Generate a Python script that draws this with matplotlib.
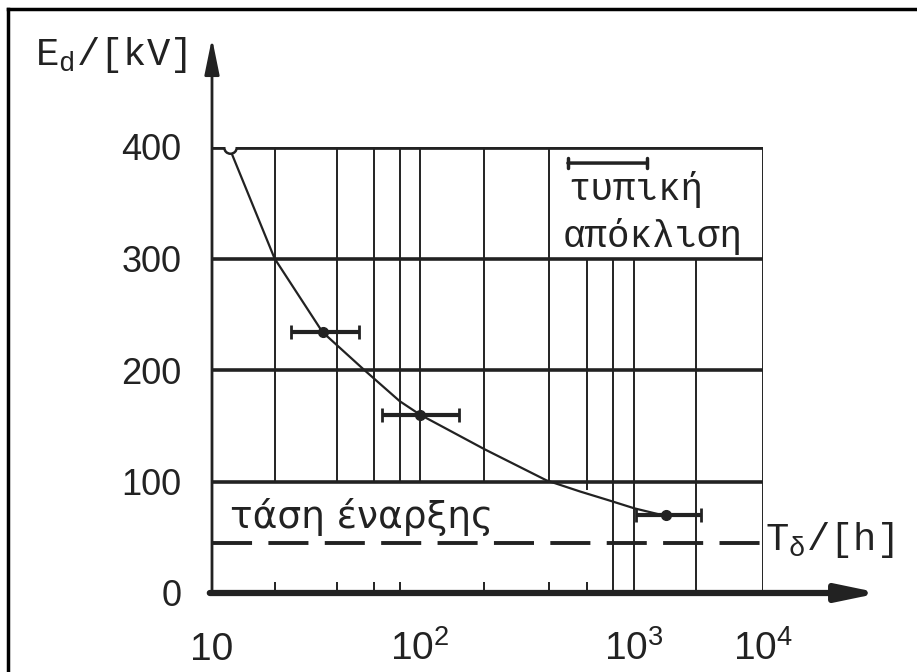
import numpy as np
import matplotlib.pyplot as plt
from matplotlib.lines import Line2D

# breakdown voltage vs time to breakdown (hand-drawn, distorted log axis)
curve_t = [12.2, 20, 34, 54, 80, 100, 200, 390, 560, 766, 1000, 1770]
curve_e = [398, 300, 234, 200, 172, 160, 129, 101, 91, 83, 76, 69]
start_t, start_e = 12.2, 400
pts_t = [34, 100, 1770]
pts_e = [234, 160, 70]
pts_lo = [24, 66, 1030]
pts_hi = [51, 152, 3300]
onset_e = 45
grid_e = [100, 200, 300, 400]
xtick_vals = [10, 100, 1000, 10000]
xtick_labels = ['10', r'$\mathregular{10^2}$', r'$\mathregular{10^3}$', r'$\mathregular{10^4}$']
ytick_vals = [0, 100, 200, 300, 400]
minor_t = [20, 40, 60, 80, 200, 400, 600]
long_t = [20, 40, 60, 80, 100, 200, 400]
low_t = [800, 1000, 3000]

ink = '#222222'
plt.rcParams['font.family'] = ['Liberation Sans', 'DejaVu Sans']

# the drawn decades are not equally wide
knots_log = [0, 1, 2, 3, 4, 5]
knots_pos = [0, 1, 2, 3.03, 3.65, 4.27]
def fwd(x):
    return np.interp(np.log10(np.clip(x, 1e-9, None)), knots_log, knots_pos)
def inv(p):
    return 10 ** np.interp(p, knots_pos, knots_log)

fig = plt.figure(figsize=(9.17, 6.72), dpi=100)
ax = fig.add_axes([212/917, 1-593/672, 551/917, 446/672])
ax.set_xscale('function', functions=(fwd, inv))
ax.set_xlim(10, 10000)
ax.set_ylim(0, 400)
for s in ax.spines.values():
    s.set_visible(False)

# grid
ax.hlines(grid_e, 10, 10000, color=ink, lw=[2.6, 2.6, 2.6, 3.4])
ax.vlines(long_t, 100, 400, color=ink, lw=1.4)
ax.vlines([600], 92, 300, color=ink, lw=1.4)
ax.vlines(low_t, 0, 300, color=ink, lw=1.4)
ax.vlines([10000], 0, 400, color=ink, lw=1.4)
ax.axhline(onset_e, xmax=0.995, color=ink, lw=2.8, dashes=(10.3, 4.2))

# curve and measurements
ax.plot(curve_t, curve_e, color=ink, lw=1.6)
ax.plot([start_t], [start_e], 'o', ms=9, mfc='white', mec=ink, mew=1.8)
ax.errorbar(pts_t, pts_e,
            xerr=[np.subtract(pts_t, pts_lo), np.subtract(pts_hi, pts_t)],
            fmt='o', color=ink, ms=7, lw=3, capsize=5, capthick=2)

# axes with arrows
ax.annotate('', xy=(1.212, 0), xytext=(-0.004, 0), xycoords='axes fraction',
            arrowprops=dict(arrowstyle='-|>,head_length=2.4,head_width=0.5',
                            lw=4.5, color=ink, shrinkA=0, shrinkB=0),
            annotation_clip=False)
ax.annotate('', xy=(0, 1.244), xytext=(0, 0), xycoords='axes fraction',
            arrowprops=dict(arrowstyle='-|>,head_length=2.2,head_width=0.45',
                            lw=2, color=ink, shrinkA=0, shrinkB=0),
            annotation_clip=False)

ax.set_xticks(xtick_vals, xtick_labels, fontsize=28, va='baseline')
ax.set_xticks(minor_t, minor=True)
ax.set_xticklabels([], minor=True)
ax.set_yticks(ytick_vals, [str(v) for v in ytick_vals], fontsize=26)
ax.tick_params(axis='x', which='major', length=0, pad=48, colors=ink)
ax.tick_params(axis='x', which='minor', direction='in', length=8, width=1.4, color=ink)
ax.tick_params(axis='y', length=0, pad=22, colors=ink)

# labels
fig.text(35/917, 1-65/672, r'E$_\mathregular{d}$/[kV]', fontsize=28,
         family=['Liberation Mono', 'DejaVu Sans Mono'], color=ink, va='baseline')
ax.text(1.004, 0.0964, r'T$_\mathregular{δ}$/[h]', transform=ax.transAxes, fontsize=28,
        family=['Liberation Mono', 'DejaVu Sans Mono'], color=ink, va='baseline')
ax.text(12.2, 58, 'τάση έναρξης', fontsize=27, family=['DejaVu Sans'],
        color=ink, va='baseline')
ax.annotate('', xy=(0.789, 0.964), xytext=(0.646, 0.964), xycoords='axes fraction',
            arrowprops=dict(arrowstyle='|-|,widthA=0.35,widthB=0.35', lw=2.5,
                            color=ink, shrinkA=0, shrinkB=0))
ax.text(0.646, (593-200)/446, 'τυπική', transform=ax.transAxes, fontsize=27,
        family=['Liberation Mono', 'DejaVu Sans Mono'], color=ink, va='baseline')
ax.text(0.637, (593-247)/446, 'απόκλιση', transform=ax.transAxes, fontsize=27,
        family=['Liberation Mono', 'DejaVu Sans Mono'], color=ink, va='baseline')

# scan frame (top and left edges)
fig.add_artist(Line2D([8/917, 1], [1-9/672, 1-9/672], lw=2.5, color='black'))
fig.add_artist(Line2D([8/917, 8/917], [0, 1-9/672], lw=2.5, color='black'))

fig.savefig('out.png', dpi=100, facecolor='white')
